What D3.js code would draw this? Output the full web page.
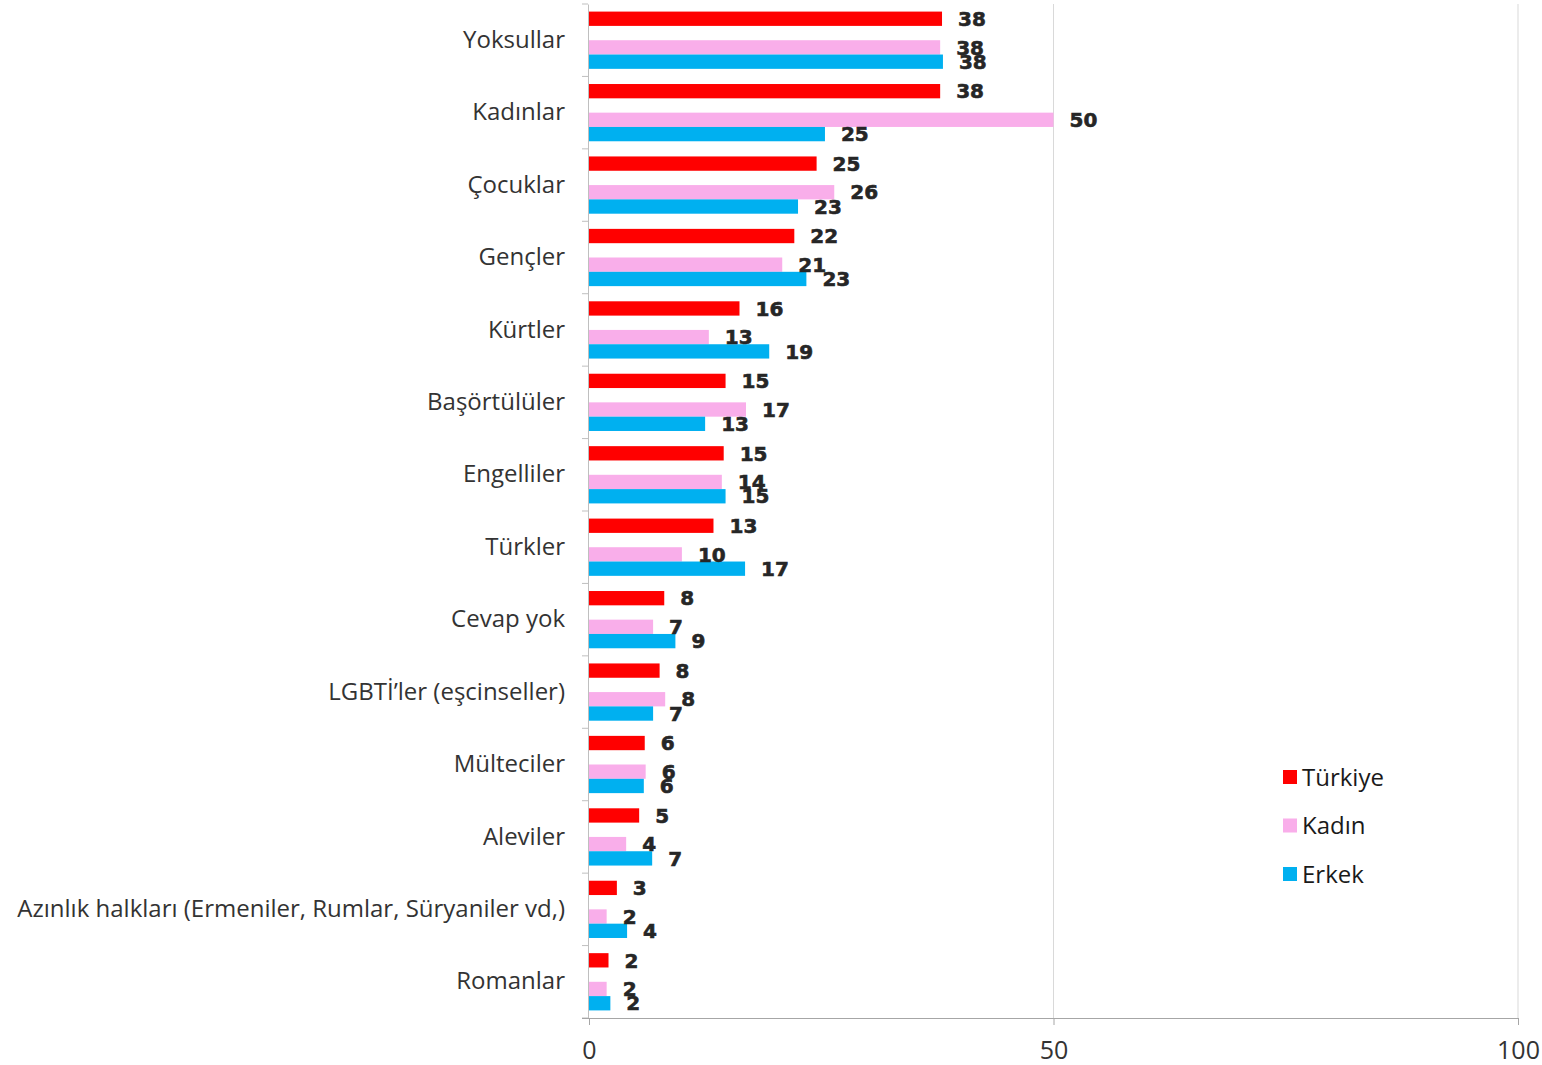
<!DOCTYPE html>
<html>
<head>
<meta charset="utf-8">
<script src="https://cdn.jsdelivr.net/npm/d3@7"></script>
<style>
  html, body { margin: 0; padding: 0; background: #fff; }
  svg { display: block; }
</style>
</head>
<body>
<svg id="chart" width="1542" height="1065"></svg>
<script>
const categories = ["Yoksullar","Kadınlar","Çocuklar","Gençler","Kürtler","Başörtülüler","Engelliler","Türkler","Cevap yok","LGBTİ’ler (eşcinseller)","Mülteciler","Aleviler","Azınlık halkları (Ermeniler, Rumlar, Süryaniler vd,)","Romanlar"];
const seriesNames = ["Türkiye","Kadın","Erkek"];
const turkiye = [38.0, 37.8, 24.5, 22.1, 16.2, 14.7, 14.5, 13.4, 8.1, 7.6, 6.0, 5.4, 3.0, 2.1];
const kadin   = [37.8, 50.0, 26.4, 20.8, 12.9, 16.9, 14.3, 10.0, 6.9, 8.2, 6.1, 4.0, 1.9, 1.9];
const erkek   = [38.1, 25.4, 22.5, 23.4, 19.4, 12.5, 14.7, 16.8, 9.3, 6.9, 5.9, 6.8, 4.1, 2.3];
const xTicks = [0, 50, 100];
const colors = ["#ff0000", "#f9aeea", "#00b0f0"];
const slots = ["Türkiye", "", "Kadın", "Erkek"];

(function () {
const seriesValues = [turkiye, kadin, erkek];
const svg = d3.select("#chart");
const textFont = "Open Sans";

const mLeft = 589, mRight = 1518, mTop = 4, mBottom = 1018;
const x = d3.scaleLinear().domain([0, 100]).range([mLeft, mRight]);
const y0 = d3.scaleBand().domain(categories).range([mTop, mBottom]).padding(0);
const y1 = d3.scaleBand().domain(slots.map((s, i) => i)).range([0, y0.bandwidth()]).paddingInner(0).paddingOuter(0.53);

// gridlines
svg.append("g").selectAll("line").data(xTicks.filter(t => t > 0)).join("line")
  .attr("x1", d => x(d)).attr("x2", d => x(d))
  .attr("y1", mTop).attr("y2", mBottom)
  .attr("stroke", "#d9d9d9").attr("stroke-width", 1);

// bars
const rows = [];
categories.forEach((c, ci) => {
  seriesNames.forEach((s, si) => {
    rows.push({cat: c, series: s, si, value: seriesValues[si][ci], slot: slots.indexOf(s)});
  });
});

svg.append("g").selectAll("rect").data(rows).join("rect")
  .attr("x", x(0))
  .attr("y", d => y0(d.cat) + y1(d.slot))
  .attr("width", d => x(d.value) - x(0))
  .attr("height", y1.bandwidth())
  .attr("fill", d => colors[d.si]);

// value labels
svg.append("g").selectAll("text").data(rows).join("text")
  .attr("x", d => x(d.value) + 16)
  .attr("y", d => y0(d.cat) + y1(d.slot) + y1.bandwidth() / 2)
  .attr("dy", "0.36em")
  .attr("font-family", "DejaVu Sans")
  .attr("font-weight", "bold")
  .attr("font-size", 20)
  .attr("fill", "#262626")
  .attr("stroke", "#262626")
  .attr("stroke-width", 0.6)
  .text(d => d3.format(".0f")(d.value));

// y axis
const yAxis = d3.axisLeft(y0).tickSize(0).tickPadding(23);
const yg = svg.append("g").attr("transform", `translate(${mLeft - 1},0)`).call(yAxis);
yg.select(".domain").attr("stroke", "#bfbfbf");
yg.selectAll("text")
  .attr("font-family", textFont)
  .attr("font-size", 24)
  .attr("fill", "#333333");
// boundary tick marks
const bounds = categories.map(c => y0(c)).concat([mBottom]);
svg.append("g").selectAll("line").data(bounds).join("line")
  .attr("x1", mLeft - 7).attr("x2", mLeft - 1)
  .attr("y1", d => d).attr("y2", d => d)
  .attr("stroke", "#bfbfbf");

// x axis
const xAxis = d3.axisBottom(x).tickValues(xTicks).tickSize(7).tickPadding(16).tickFormat(d3.format("d"));
const xg = svg.append("g").attr("transform", `translate(0,${mBottom})`).call(xAxis);
xg.select(".domain").attr("stroke", "#a6a6a6").attr("d", `M${mLeft - 7},0.5H${mRight}`);
xg.selectAll(".tick line").attr("stroke", "#a6a6a6");
xg.selectAll("text")
  .attr("font-family", textFont)
  .attr("font-size", 25)
  .attr("fill", "#333333");

// legend
const legend = svg.append("g").attr("transform", "translate(1283,777)");
const li = legend.selectAll("g").data(seriesNames).join("g")
  .attr("transform", (d, i) => `translate(0,${i * 48.5})`);
li.append("rect").attr("x", 0).attr("y", -7).attr("width", 14).attr("height", 14)
  .attr("fill", (d, i) => colors[i]);
li.append("text").attr("x", 19).attr("y", 0).attr("dy", "0.36em")
  .attr("font-family", textFont).attr("font-size", 24).attr("fill", "#1a1a1a")
  .text(d => d);
})();
</script>
</body>
</html>
